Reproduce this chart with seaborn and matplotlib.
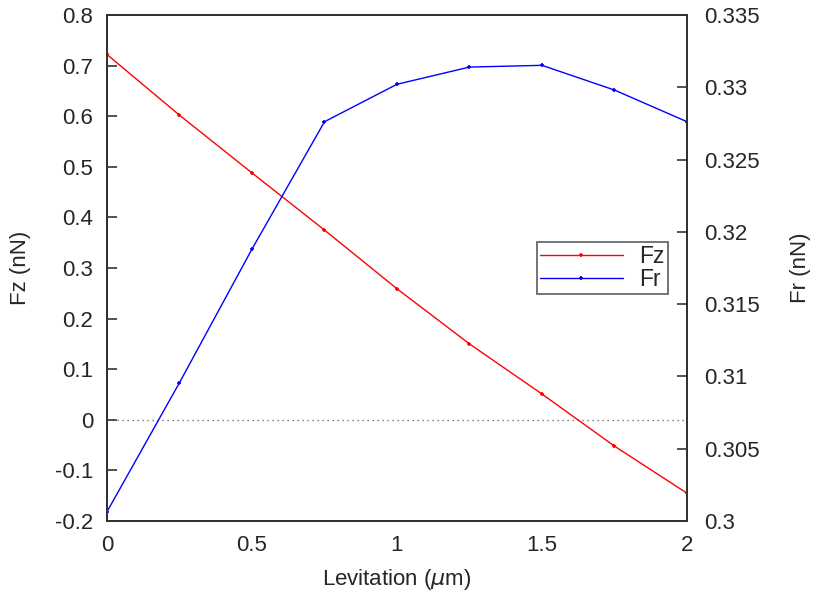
import matplotlib
matplotlib.use("Agg")
import matplotlib.pyplot as plt
import seaborn as sns
import pandas as pd

# Levitation height (micrometres) and the two force components
levitation = [0.0, 0.25, 0.5, 0.75, 1.0, 1.25, 1.5, 1.75, 2.0]
fz = [0.722, 0.602, 0.488, 0.375, 0.259, 0.150, 0.051, -0.052, -0.145]
fr = [0.30064, 0.30957, 0.31881, 0.32762, 0.33021, 0.3314, 0.33152, 0.32981, 0.32762]

x_ticks = [0, 0.5, 1, 1.5, 2]
fz_ticks = [-0.2, -0.1, 0, 0.1, 0.2, 0.3, 0.4, 0.5, 0.6, 0.7, 0.8]
fr_ticks = [0.3, 0.305, 0.31, 0.315, 0.32, 0.325, 0.33, 0.335]

df = pd.DataFrame({"lev": levitation, "Fz": fz, "Fr": fr})

sns.set_theme(style="white")
plt.rcParams["font.family"] = ["Liberation Sans", "DejaVu Sans"]
plt.rcParams["mathtext.fontset"] = "dejavusans"

fig = plt.figure(figsize=(8.13, 5.96), dpi=100)
ax = fig.add_axes([0.1316, 0.1258, 0.7134, 0.849])
ax2 = ax.twinx()

sns.lineplot(data=df, x="lev", y="Fz", ax=ax, color="#ff0000", lw=1.0,
             marker="+", markersize=3.5, markeredgewidth=1.2, markeredgecolor="#ff0000",
             label="Fz", legend=False)
sns.lineplot(data=df, x="lev", y="Fr", ax=ax2, color="#0000ff", lw=1.0,
             marker="+", markersize=3.5, markeredgewidth=1.2, markeredgecolor="#0000ff",
             label="Fr", legend=False)

ax.axhline(0, color="#555555", lw=0.9, ls=(0, (1, 3)), zorder=0)

ax.set_xlim(0, 2)
ax.set_ylim(-0.2, 0.8)
ax2.set_ylim(0.3, 0.335)
ax.set_xticks(x_ticks)
ax.set_xticklabels(["0", "0.5", "1", "1.5", "2"])
ax.set_yticks(fz_ticks)
ax.set_yticklabels(["-0.2", "-0.1", "0", "0.1", "0.2", "0.3", "0.4", "0.5", "0.6", "0.7", "0.8"])
ax2.set_yticks(fr_ticks)
ax2.set_yticklabels(["0.3", "0.305", "0.31", "0.315", "0.32", "0.325", "0.33", "0.335"])

ax.set_xlabel(r"Levitation ($\mu$m)", fontsize=16, labelpad=8)
ax.set_ylabel("Fz (nN)", fontsize=16, labelpad=17)
ax2.set_ylabel("Fr (nN)", fontsize=16, labelpad=22)

for a in (ax, ax2):
    for s in a.spines.values():
        s.set_color("#333333")
        s.set_linewidth(1.4)
        s.set_visible(True)
ax.tick_params(axis="x", direction="in", length=7, width=1.2, color="#333333",
               labelsize=16, pad=10, top=False)
ax.tick_params(axis="y", direction="in", length=7, width=1.2, color="#333333",
               labelsize=16, pad=10, right=False)
ax2.tick_params(axis="y", direction="in", length=7, width=1.2, color="#333333",
                labelsize=16, pad=12)

h1, l1 = ax.get_legend_handles_labels()
h2, l2 = ax2.get_legend_handles_labels()
leg = ax2.legend(h1 + h2, l1 + l2, loc="center left", bbox_to_anchor=(0.741, 0.5),
                 fontsize=16.5, frameon=True, fancybox=False, handlelength=3.6,
                 borderpad=0.15, labelspacing=0.0, handletextpad=0.7, borderaxespad=0)
leg.get_frame().set_edgecolor("#333333")
leg.get_frame().set_linewidth(1.2)

fig.savefig("out.png", dpi=100)
